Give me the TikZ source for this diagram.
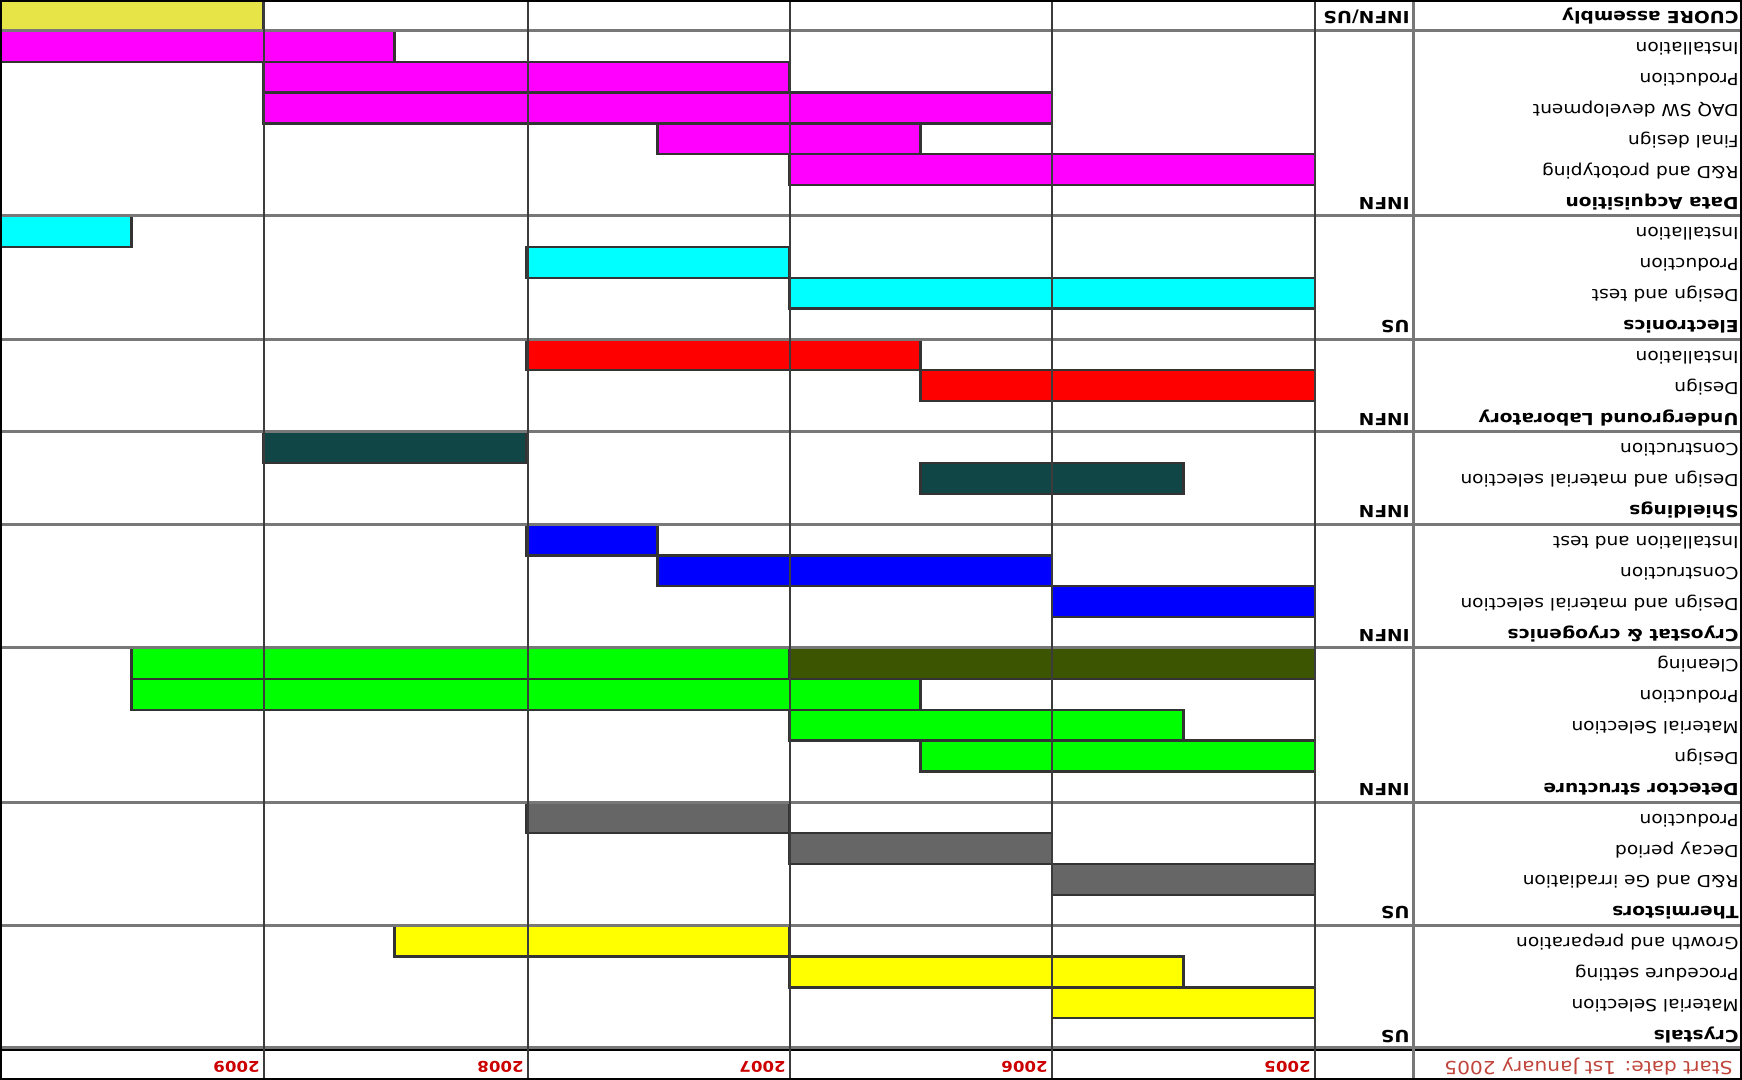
\documentclass[tikz,border=0pt]{standalone}
\usepackage{fontspec}
\setmainfont{DejaVu Sans}[FakeStretch=1.12]
\definecolor{cyel}{RGB}{255,255,0}
\definecolor{cass}{RGB}{230,228,70}
\definecolor{cgry}{RGB}{102,102,102}
\definecolor{cgrn}{RGB}{0,255,0}
\definecolor{cdgr}{RGB}{60,85,0}
\definecolor{cblu}{RGB}{0,0,255}
\definecolor{cteal}{RGB}{16,70,70}
\definecolor{cred}{RGB}{255,0,0}
\definecolor{ccya}{RGB}{0,255,255}
\definecolor{cmag}{RGB}{255,0,255}
\definecolor{hdrtxt}{RGB}{192,70,60}
\definecolor{yeartxt}{RGB}{205,0,0}
\definecolor{sepline}{RGB}{120,120,120}
\definecolor{gridline}{RGB}{60,60,60}
\newcommand\ry[1]{(#1)*30.857}
\newcommand\tx[1]{(427+((#1)-2005)*263)}
\newcommand\gbar[4]{\path[ganttbar, fill=#4] ({\tx{#2}},{\ry{#1}}) rectangle ({\tx{#3}},{\ry{#1+1}});}
\tikzset{
  ganttbar/.style={draw=black!80, line width=1.2pt},
  lab/.style={anchor=base west, inner sep=0pt, font=\fontsize{8.3}{10}\selectfont},
  grp/.style={lab, font=\fontsize{8.3}{10}\selectfont\bfseries},
  yearlab/.style={anchor=base west, inner sep=0pt, text=yeartxt, font=\fontsize{7.4}{8}\selectfont\bfseries},
  sep/.style={draw=sepline, line width=1.5pt},
  vgrid/.style={draw=gridline, line width=1.1pt}
}
\begin{document}
\begin{tikzpicture}[x=0.5pt,y=-0.5pt,rotate=180,transform shape]
\useasboundingbox (0,0) rectangle (1742,1080);
\fill[white] (0,0) rectangle (1742,1080);
% bars
\gbar{2}{2005}{2006}{cyel}
\gbar{3}{2005.5}{2007}{cyel}
\gbar{4}{2007}{2008.5}{cyel}
\gbar{6}{2005}{2006}{cgry}
\gbar{7}{2006}{2007}{cgry}
\gbar{8}{2007}{2008}{cgry}
\gbar{10}{2005}{2006.5}{cgrn}
\gbar{11}{2005.5}{2007}{cgrn}
\gbar{12}{2006.5}{2009.5}{cgrn}
\gbar{13}{2005}{2007}{cdgr}
\gbar{13}{2007}{2009.5}{cgrn}
\gbar{15}{2005}{2006}{cblu}
\gbar{16}{2006}{2007.5}{cblu}
\gbar{17}{2007.5}{2008}{cblu}
\gbar{19}{2005.5}{2006.5}{cteal}
\gbar{20}{2008}{2009}{cteal}
\gbar{22}{2005}{2006.5}{cred}
\gbar{23}{2006.5}{2008}{cred}
\gbar{25}{2005}{2007}{ccya}
\gbar{26}{2007}{2008}{ccya}
\gbar{27}{2009.5}{2010}{ccya}
\gbar{29}{2005}{2007}{cmag}
\gbar{30}{2006.5}{2007.5}{cmag}
\gbar{31}{2006}{2009}{cmag}
\gbar{32}{2007}{2009}{cmag}
\gbar{33}{2008.5}{2010}{cmag}
\gbar{34}{2009}{2010}{cass}
% horizontal separators
\foreach \r in {5,9,14,18,21,24,28,34}
  \draw[sep] (0,{\ry{\r}}) -- (1742,{\ry{\r}});
\draw[sep] (0,{\ry{1}+1.5}) -- (1742,{\ry{1}+1.5});
\draw[black, line width=1.2pt] (0,{\ry{1}-1}) -- (1742,{\ry{1}-1});
% vertical grid
\draw[draw=sepline, line width=1.5pt] (328,0) -- (328,1080);
\foreach \x in {427,690,952,1214,1478}
  \draw[vgrid] (\x,0) -- (\x,1080);
% frame
\draw[black, line width=1.6pt] (0,0) rectangle (1742,1080);
% header
\node[lab, text=hdrtxt, font=\fontsize{9}{11}\selectfont] (start) at (9,{\ry{0.5}+3.5}) {Start date: 1st January 2005};
\foreach \y/\x in {2005/427,2006/690,2007/952,2008/1214,2009/1478}
  \node[yearlab] (y\y) at (\x+4,{\ry{0.5}+3}) {\y};
% groups
\foreach \r/\t/\o in {1/Crystals/US,5/Thermistors/US,9/Detector structure/INFN,14/Cryostat \& cryogenics/INFN,18/Shieldings/INFN,21/Underground Laboratory/INFN,24/Electronics/US,28/Data Acquisition/INFN,34/CUORE assembly/INFN\slash US}{
  \node[grp] (g\r) at (3,{\ry{\r+0.5}+3.5}) {\t};
  \node[grp] (o\r) at (332,{\ry{\r+0.5}+3.5}) {\o};
}
% tasks
\foreach \r/\t in {2/Material Selection,3/Procedure setting,4/Growth and preparation,
  6/R\&D and Ge irradiation,7/Decay period,8/Production,
  10/Design,11/Material Selection,12/Production,13/Cleaning,
  15/Design and material selection,16/Construction,17/Installation and test,
  19/Design and material selection,20/Construction,
  22/Design,23/Installation,
  25/Design and test,26/Production,27/Installation,
  29/R\&D and prototyping,30/Final design,31/DAQ SW development,32/Production,33/Installation}
  \node[lab] (t\r) at (3,{\ry{\r+0.5}+3.5}) {\t};
\end{tikzpicture}
\end{document}
